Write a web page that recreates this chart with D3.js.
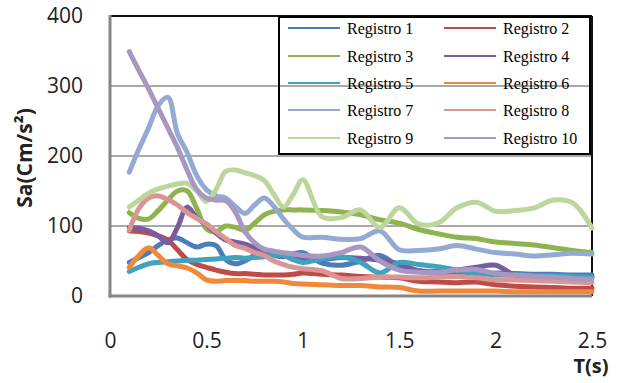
<!DOCTYPE html>
<html><head><meta charset="utf-8">
<script src="https://cdn.jsdelivr.net/npm/d3@7/dist/d3.min.js"></script>
<style>
html,body{margin:0;padding:0;background:#fff;}
svg{display:block;}
</style></head>
<body>
<svg id="chart" width="638" height="383"></svg>
<script>
const periods = [0.1,0.15,0.2,0.25,0.3,0.35,0.4,0.45,0.5,0.55,0.6,0.65,0.7,0.75,0.8,0.85,0.9,0.95,1.0,
  1.1,1.2,1.3,1.4,1.5,1.6,1.7,1.8,1.9,2.0,2.1,2.2,2.3,2.4,2.5];
const registro1 = [48,55,62,72,80,83,76,70,74,72,52,46,50,58,62,58,56,60,62,47,44,50,58,42,36,32,30,31,33,32,31,31,30,30];
const registro2 = [93,92,90,86,80,66,52,45,41,37,34,32,32,31,30,30,30,31,33,31,30,28,27,26,21,20,19,20,16,14,13,12,11,11];
const registro3 = [119,111,110,122,137,150,150,125,96,92,100,98,94,104,116,121,123,123,123,122,120,116,109,104,95,89,84,82,77,75,73,69,65,62];
const registro4 = [98,97,93,86,76,98,127,112,102,90,80,77,74,69,65,62,57,55,53,52,55,54,51,46,36,35,37,41,44,30,29,28,28,27];
const registro5 = [35,41,46,48,49,50,51,51,52,53,54,55,54,55,56,58,58,52,48,53,56,48,33,48,45,42,37,33,30,30,29,29,28,27];
const registro6 = [41,58,69,58,46,43,40,33,23,21,22,22,22,21,21,21,20,18,17,16,15,15,13,12,7,7,7,7,7,6,6,6,6,6];
const registro7 = [177,210,240,272,284,232,205,172,152,143,140,128,118,130,140,128,110,95,84,84,81,82,93,66,65,67,72,67,62,60,57,59,61,60];
const registro8 = [94,125,140,143,138,130,119,111,103,92,82,72,68,62,58,50,45,41,39,36,25,25,27,27,26,27,28,26,23,23,22,21,20,19];
const registro9 = [127,137,147,153,157,160,161,150,135,152,178,180,176,172,165,145,127,145,166,113,112,123,98,126,103,104,126,134,121,122,126,137,133,97];
const registro10 = [349,322,296,268,240,212,180,152,140,137,136,120,92,76,67,64,62,60,58,57,62,70,50,37,34,34,37,38,32,30,28,27,25,24];

const seriesNames = ["Registro 1","Registro 2","Registro 3","Registro 4","Registro 5",
  "Registro 6","Registro 7","Registro 8","Registro 9","Registro 10"];
const seriesValues = [registro1,registro2,registro3,registro4,registro5,registro6,registro7,registro8,registro9,registro10];
const seriesColors = ["#4A7EBB","#BE4B48","#8FB350","#7A5C9E","#3FA2BE","#F08A3A","#93AAD4","#D99694","#BDD69C","#A897C0"];
const yTicks = [0,100,200,300,400];
const xTicks = [0,0.5,1,1.5,2,2.5];
const xTitle = "T(s)";

const svg = d3.select("#chart");
const L = 110, R = 592, T = 16, B = 296;
const x = d3.scaleLinear().domain([0,2.5]).range([L,R]);
const y = d3.scaleLinear().domain([0,400]).range([B,T]);

// gridlines
svg.append("g").selectAll("line").data(yTicks.filter(v => v > 0 && v < 400)).join("line")
  .attr("x1", L).attr("x2", R).attr("y1", d => y(d)).attr("y2", d => y(d))
  .attr("stroke", "#8c8c8c").attr("stroke-width", 1.5);

// plot border top/right
svg.append("line").attr("x1", L).attr("x2", R).attr("y1", T).attr("y2", T).attr("stroke", "#111").attr("stroke-width", 2);
svg.append("line").attr("x1", R).attr("x2", R).attr("y1", T).attr("y2", B).attr("stroke", "#111").attr("stroke-width", 2);

// series
const line = d3.line().x((d,i) => x(periods[i])).y(d => y(d)).curve(d3.curveCatmullRom.alpha(0.5));
svg.append("g").selectAll("path").data(seriesValues).join("path")
  .attr("d", d => line(d)).attr("fill", "none")
  .attr("stroke", (d,i) => seriesColors[i]).attr("stroke-width", 5)
  .attr("stroke-linejoin", "round").attr("stroke-linecap", "round");

// axes
const yAxis = d3.axisLeft(y).tickValues(yTicks).tickSize(0).tickPadding(27).tickFormat(d3.format("d"));
const gy = svg.append("g").attr("transform", `translate(${L},0)`).call(yAxis);
gy.select(".domain").remove();
gy.selectAll("text").attr("font-family", "'Open Sans', sans-serif").attr("font-size", 21).attr("fill", "#222");

const xAxis = d3.axisBottom(x).tickValues(xTicks).tickSize(0).tickPadding(37).tickFormat(d => String(d));
const gx = svg.append("g").attr("transform", `translate(0,${B})`).call(xAxis);
gx.select(".domain").remove();
gx.selectAll("text").attr("font-family", "'Open Sans', sans-serif").attr("font-size", 21).attr("fill", "#222");

// axis lines
svg.append("line").attr("x1", L).attr("x2", L).attr("y1", T - 1).attr("y2", B + 1.5).attr("stroke", "#868686").attr("stroke-width", 3);
svg.append("line").attr("x1", L - 1.5).attr("x2", R).attr("y1", B).attr("y2", B).attr("stroke", "#868686").attr("stroke-width", 3);

// titles
svg.append("text").attr("transform", "translate(32,158) rotate(-90)").attr("text-anchor", "middle")
  .attr("font-family", "'Open Sans', sans-serif").attr("font-weight", "bold").attr("font-size", 21).attr("fill", "#222")
  .text("Sa(Cm/s²)");
svg.append("text").attr("x", 591).attr("y", 373).attr("text-anchor", "middle")
  .attr("font-family", "'Open Sans', sans-serif").attr("font-weight", "bold").attr("font-size", 20).attr("fill", "#222")
  .text(xTitle);

// legend
const lg = svg.append("g");
lg.append("rect").attr("x", 279).attr("y", 17).attr("width", 311).attr("height", 137)
  .attr("fill", "none").attr("stroke", "#000").attr("stroke-width", 2);
const rowY = [28, 56, 83, 110, 138];
const colX = [288, 444];
const items = lg.selectAll("g.item").data(seriesNames).join("g").attr("class", "item")
  .attr("transform", (d,i) => `translate(${colX[i % 2]},${rowY[Math.floor(i / 2)]})`);
items.append("line").attr("x1", 0).attr("x2", 52).attr("y1", 0).attr("y2", 0)
  .attr("stroke", (d,i) => seriesColors[i]).attr("stroke-width", 2.2);
items.append("text").attr("x", 59).attr("y", 0).attr("dy", "0.35em")
  .attr("font-family", "'Liberation Serif', 'Times New Roman', serif").attr("font-size", 16).attr("fill", "#000")
  .text(d => d);
</script>
</body></html>
